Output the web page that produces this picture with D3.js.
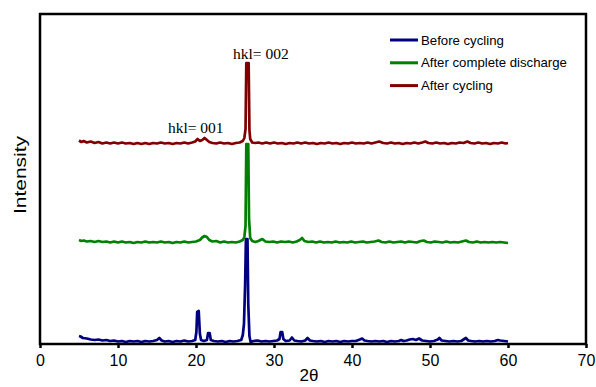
<!DOCTYPE html>
<html>
<head>
<meta charset="utf-8">
<script src="https://cdn.jsdelivr.net/npm/d3@7"></script>
<style>
  html, body { margin: 0; padding: 0; background: #fff; }
  svg { display: block; }
</style>
</head>
<body>
<svg id="chart" width="596" height="387"></svg>
<script>
// XRD patterns (2θ in degrees, stacked intensity in arbitrary units)
const beforeCycling = [
  [5.0,8],[5.2,7.5],[5.5,6],[6.0,5.5],[6.5,4.5],[7.0,4],[7.5,4.5],[8.0,3.5],[8.5,4],[9.0,3],
  [9.5,3.5],[10.0,2.5],[10.5,3],[11.0,2],[11.5,3],[12.0,2.5],[12.5,3],[13.0,2],[13.5,3],[14.0,2.5],
  [14.5,3],[15.0,4],[15.3,6],[15.6,3.5],[16.0,2.5],[16.5,3],[17.0,2],[17.5,3],[18.0,2.5],[18.5,3.5],
  [19.0,2.5],[19.5,3],[19.9,4],[20.05,12],[20.15,32],[20.35,33],[20.5,10],[20.65,4],[21.0,3],[21.4,4],
  [21.55,11],[21.75,11],[21.9,4],[22.3,3],[22.8,2.5],[23.3,3],[23.8,2],[24.3,3],[24.8,2.5],[25.3,3],
  [25.8,4],[26.0,9],[26.15,20],[26.3,60],[26.4,105],[26.6,105],[26.7,40],[26.85,8],[27.0,2],[27.4,3],
  [27.9,3.5],[28.4,2.5],[28.9,3],[29.4,2.5],[29.9,3],[30.4,3.5],[30.7,5],[30.85,12],[31.05,12],[31.2,5],
  [31.5,3],[32.0,3.5],[32.3,6.5],[32.6,3.5],[33.0,3],[33.5,2.5],[34.0,3.5],[34.3,6],[34.6,3.5],[35.0,3],
  [35.5,2.5],[36.0,3],[36.5,2],[37.0,3],[37.5,2.5],[38.0,3],[38.5,2],[39.0,3],[39.5,2.5],[40.0,3],
  [40.5,3],[41.0,4.5],[41.3,5.5],[41.6,3.5],[42.0,3],[42.5,2.5],[43.0,3],[43.5,2.5],[44.0,3],[44.5,2],
  [45.0,3],[45.5,2.5],[46.0,3],[46.3,4],[46.6,3],[47.0,3.5],[47.4,4.5],[47.8,5],[48.2,4],[48.6,5.5],
  [49.0,3.5],[49.5,3],[50.0,2.5],[50.5,3],[51.0,4.5],[51.2,6],[51.5,3.5],[52.0,3],[52.5,2.5],[53.0,3],
  [53.5,2.5],[54.0,3],[54.4,5],[54.6,6],[54.9,3.5],[55.3,3],[55.8,2.5],[56.3,3],[56.8,2.5],[57.3,3],
  [57.8,2.5],[58.3,3],[58.7,4],[59.0,3.5],[59.5,3],[60.0,2.5]
];

const afterDischarge = [
  [5.0,104],[5.3,103],[5.6,103.5],[6.0,102.5],[6.5,103],[7.0,102],[7.5,103],[8.0,102],[8.5,102.5],[9.0,101.5],
  [9.5,102.5],[10.0,101.5],[10.5,102.5],[11.0,101.5],[11.5,102],[12.0,101],[12.5,102],[13.0,101.5],[13.5,102.5],[14.0,101.5],
  [14.5,102],[15.0,101.5],[15.5,102.5],[16.0,101.5],[16.5,102],[17.0,101],[17.5,102],[18.0,101.5],[18.5,102.5],[19.0,101.5],
  [19.5,102],[20.0,102.5],[20.5,104],[20.8,106.5],[21.1,108],[21.4,107],[21.7,104],[22.1,102.5],[22.6,103],[23.1,101.5],
  [23.6,102.5],[24.1,101.5],[24.6,102],[25.1,101.5],[25.6,102.5],[26.0,104],[26.2,107],[26.35,118],[26.45,200],[26.7,200],
  [26.8,125],[26.95,106],[27.2,103],[27.6,102],[28.0,103],[28.5,105],[28.9,102.5],[29.4,102],[29.9,102.5],[30.4,101.5],
  [30.9,102.5],[31.4,102],[31.9,102.5],[32.4,101.5],[32.9,102.5],[33.3,104],[33.6,106],[33.9,103],[34.4,102],[34.9,102.5],
  [35.4,101.5],[35.9,102.5],[36.4,101.5],[36.9,102],[37.4,101.5],[37.9,102.5],[38.4,101.5],[38.9,102],[39.4,101.5],[39.9,102.5],
  [40.4,101.5],[40.9,102],[41.4,102.5],[41.9,101.5],[42.4,102],[42.9,102.5],[43.4,103.5],[43.8,102],[44.3,101.5],[44.8,102.5],
  [45.3,101.5],[45.8,102],[46.3,102.5],[46.8,101.5],[47.3,102.5],[47.8,102],[48.3,101.5],[48.8,103],[49.2,103.5],[49.6,102],
  [50.1,101.5],[50.6,102.5],[51.1,102],[51.6,101.5],[52.1,102.5],[52.6,101.5],[53.1,102],[53.6,101.5],[54.1,102.5],[54.6,103.5],
  [55.0,102],[55.5,101.5],[56.0,102.5],[56.5,101.5],[57.0,102],[57.5,101.5],[58.0,102],[58.5,101.5],[59.0,102],[59.5,101.5],
  [60.0,101]
];

const afterCycling = [
  [5.0,203.5],[5.3,202],[5.6,203],[6.0,201.5],[6.5,202.5],[7.0,201],[7.5,202],[8.0,200.5],[8.5,201.5],[9.0,200.5],
  [9.5,201.5],[10.0,200.5],[10.5,201.5],[11.0,200.5],[11.5,201],[12.0,200],[12.5,201],[13.0,200],[13.5,201],[14.0,200],
  [14.5,201],[15.0,200.5],[15.5,201.5],[16.0,200.5],[16.5,201],[17.0,200],[17.5,201],[18.0,200.5],[18.5,201.5],[19.0,200.5],
  [19.5,201.5],[19.9,202.5],[20.2,205],[20.5,203],[20.8,204],[21.1,206],[21.4,204],[21.7,202],[22.1,201],[22.6,200.5],
  [23.1,201.5],[23.6,200.5],[24.1,201],[24.6,200],[25.1,201],[25.6,201.5],[26.0,203],[26.2,206],[26.35,215],[26.45,281],
  [26.75,281],[26.85,214],[26.95,205],[27.2,201.5],[27.6,201],[28.0,201.5],[28.5,200.5],[29.0,201.5],[29.5,200.5],[30.0,201.5],
  [30.5,200.5],[31.0,201],[31.5,200],[32.0,201],[32.5,200.5],[33.0,201.5],[33.5,200.5],[34.0,201.5],[34.5,200.5],[35.0,201],
  [35.5,200],[36.0,201],[36.5,200.5],[37.0,201.5],[37.5,200.5],[38.0,201],[38.5,200],[39.0,201],[39.5,200.5],[40.0,201.5],
  [40.5,200.5],[41.0,201],[41.5,200.5],[42.0,201.5],[42.5,200.5],[43.0,201.5],[43.5,202.5],[44.0,201],[44.5,200.5],[45.0,201.5],
  [45.5,200.5],[46.0,201],[46.5,200],[47.0,201],[47.5,200.5],[48.0,201.5],[48.5,200.5],[49.0,201.5],[49.4,202.5],[49.8,201],
  [50.3,200.5],[50.8,201.5],[51.3,200.5],[51.8,201],[52.3,200],[52.8,201],[53.3,200.5],[53.8,201.5],[54.3,201],[54.8,202.5],
  [55.2,201],[55.7,200.5],[56.2,201.5],[56.7,200.5],[57.2,201],[57.7,200],[58.2,201],[58.7,200.5],[59.2,201.5],[59.7,200.5],
  [60.0,201]
];

const seriesNames = ["Before cycling", "After complete discharge", "After cycling"];
const seriesData = [beforeCycling, afterDischarge, afterCycling];
const seriesColors = ["#000080", "#008000", "#800000"];

const xTicks = [0, 10, 20, 30, 40, 50, 60, 70];
const peakLabels = [
  { text: "hkl= 001", x: 16.4, y: 211 },
  { text: "hkl= 002", x: 24.75, y: 285 }
];

// layout
const svg = d3.select("#chart");
const plot = { left: 40, right: 586, top: 14, bottom: 344 };

const x = d3.scaleLinear().domain([0, 70]).range([plot.left, plot.right]);
const y = d3.scaleLinear().domain([0, 330]).range([plot.bottom, plot.top]);

// traces
const line = d3.line().x(d => x(d[0])).y(d => y(d[1]));
svg.append("g")
  .selectAll("path")
  .data(seriesData)
  .join("path")
  .attr("d", line)
  .attr("fill", "none")
  .attr("stroke", (d, i) => seriesColors[i])
  .attr("stroke-width", 2.7)
  .attr("stroke-linejoin", "round");

// frame
svg.append("rect")
  .attr("x", plot.left).attr("y", plot.top)
  .attr("width", plot.right - plot.left)
  .attr("height", plot.bottom - plot.top)
  .attr("fill", "none")
  .attr("stroke", "#000")
  .attr("stroke-width", 2.5);

// x axis
const xAxis = svg.append("g")
  .attr("transform", `translate(0,${plot.bottom})`)
  .call(d3.axisBottom(x).tickValues(xTicks).tickSize(4).tickSizeOuter(0).tickPadding(7));
xAxis.select(".domain").remove();
xAxis.selectAll(".tick line").attr("stroke", "#000").attr("stroke-width", 2.5);
xAxis.selectAll(".tick text")
  .attr("font-family", "Liberation Sans, Arial, sans-serif")
  .attr("font-size", 16)
  .attr("fill", "#000");

// axis titles
svg.append("text")
  .attr("x", 309).attr("y", 381)
  .attr("text-anchor", "middle")
  .attr("font-family", "Liberation Sans, Arial, sans-serif")
  .attr("font-size", 17)
  .text("2θ");

svg.append("text")
  .attr("transform", "translate(26,175) rotate(-90)")
  .attr("text-anchor", "middle")
  .attr("font-family", "Liberation Sans, Arial, sans-serif")
  .attr("font-size", 17)
  .attr("textLength", 78)
  .attr("lengthAdjust", "spacingAndGlyphs")
  .text("Intensity");

// reflection labels
svg.append("g")
  .selectAll("text")
  .data(peakLabels)
  .join("text")
  .attr("x", d => x(d.x))
  .attr("y", d => y(d.y))
  .attr("font-family", "Liberation Serif, Times New Roman, serif")
  .attr("font-size", 15.5)
  .text(d => d.text);

// legend
const legend = svg.append("g").attr("transform", "translate(390,40)");
const rows = legend.selectAll("g")
  .data(seriesNames)
  .join("g")
  .attr("transform", (d, i) => `translate(0,${i * 22.8})`);
rows.append("line")
  .attr("x1", 0).attr("x2", 28)
  .attr("stroke", (d, i) => seriesColors[i])
  .attr("stroke-width", 3);
rows.append("text")
  .attr("x", 31).attr("y", 4.5)
  .attr("font-family", "Liberation Sans, Arial, sans-serif")
  .attr("font-size", 13.2)
  .text(d => d);
</script>
</body>
</html>
